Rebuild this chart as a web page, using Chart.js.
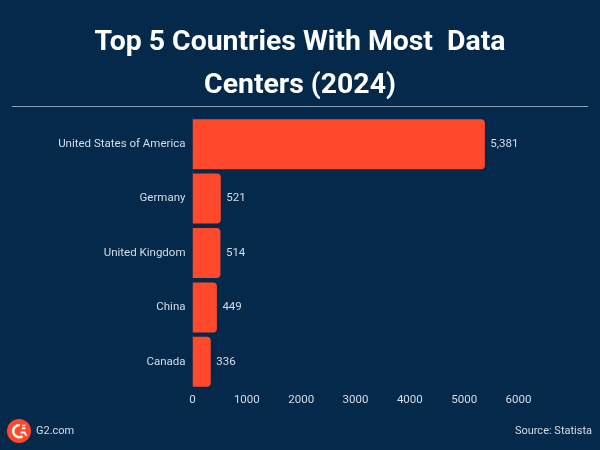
<!DOCTYPE html>
<html lang="en">

<head>
  <meta charset="UTF-8">
  <title>Top 5 Countries With Most Data Centers (2024)</title>
  <script src="https://cdn.jsdelivr.net/npm/chart.js"></script>
  <style>
    html, body { margin: 0; padding: 0; background: #05294b; }
    #page { position: relative; width: 600px; height: 450px; overflow: hidden; background: #05294b; font-family: Roboto, sans-serif; }
    #chartBox { position: absolute; left: 0; top: 0; width: 600px; height: 450px; }
    h1 { position: absolute; left: 0; top: 19px; width: 600px; margin: 0; text-align: center; color: #fff; font: 700 28.4px/43px Roboto, sans-serif; white-space: pre; }
    #rule { position: absolute; left: 12px; top: 106px; width: 576px; height: 1px; background: #8ea3b8; }
    .foot { position: absolute; top: 423px; color: #d5dde6; font-size: 11px; line-height: 15px; }
    #logo { position: absolute; left: 7px; top: 419px; }
  </style>
</head>

<body>
  <div id="page">
    <div id="chartBox"><canvas id="myChart"></canvas></div>
    <h1>Top 5 Countries With Most  Data
Centers (2024)</h1>
    <div id="rule"></div>
    <svg id="logo" width="24" height="24" viewBox="0 0 24 24">
      <circle cx="12" cy="12" r="12" fill="#ff492c" />
      <path d="M15.5 17.2A6 6 0 1 1 13 6.2" fill="none" stroke="#fff" stroke-width="2.4" />
      <path d="M13.5 13.5h4l2 3.4" fill="none" stroke="#fff" stroke-width="1.8" />
      <path d="M15 6.5h3.4M15 9.4h3.4" stroke="#fff" stroke-width="1.6" />
    </svg>
    <div class="foot" style="left: 36px;">G2.com</div>
    <div class="foot" style="right: 8px;">Source: Statista</div>
  </div>

  <script>
    const categories = ['United States of America', 'Germany', 'United Kingdom', 'China', 'Canada'];
    const centerCounts = [5381, 521, 514, 449, 336];
    const centerLabels = ['5,381', '521', '514', '449', '336'];
    const xTicks = [0, 1000, 2000, 3000, 4000, 5000, 6000];

    // writes the number next to each bar
    const valueLabels = {
      id: 'valueLabels',
      afterDatasetsDraw(chart) {
        const ctx = chart.ctx;
        const bars = chart.getDatasetMeta(0).data;
        ctx.save();
        ctx.fillStyle = '#d5dde6';
        ctx.font = '11.5px Roboto, sans-serif';
        ctx.textBaseline = 'middle';
        bars.forEach(function (bar, i) {
          ctx.fillText(centerLabels[i], bar.x + 5.5, bar.y);
        });
        ctx.restore();
      }
    };

    new Chart(document.getElementById('myChart'), {
      type: 'bar',
      data: {
        labels: categories,
        datasets: [{
          data: centerCounts,
          backgroundColor: '#ff492c',
          barPercentage: 0.92,
          categoryPercentage: 1,
          borderRadius: { topLeft: 0, bottomLeft: 0, topRight: 4, bottomRight: 4 },
          borderSkipped: false
        }]
      },
      plugins: [valueLabels],
      options: {
        indexAxis: 'y',
        responsive: true,
        maintainAspectRatio: false,
        animation: false,
        layout: { padding: { top: 117, right: 81.5, bottom: 0, left: 0 } },
        plugins: { legend: { display: false }, tooltip: { enabled: false } },
        scales: {
          x: {
            min: 0,
            max: 6000,
            grid: { display: false, tickLength: 0 },
            border: { display: false },
            afterFit: function (axis) { axis.height = 61; },
            afterBuildTicks: function (axis) { axis.ticks = xTicks.map(function (v) { return { value: v }; }); },
            ticks: {
              color: '#d5dde6',
              font: { family: 'Roboto, sans-serif', size: 11.5 },
              maxRotation: 0,
              padding: 4,
              callback: function (v) { return String(v); }
            }
          },
          y: {
            grid: { display: false, tickLength: 0 },
            border: { display: false },
            afterFit: function (axis) { axis.width = 192.5; },
            ticks: {
              color: '#d5dde6',
              font: { family: 'Roboto, sans-serif', size: 11.5 },
              padding: 7
            }
          }
        }
      }
    });
  </script>
</body>

</html>
